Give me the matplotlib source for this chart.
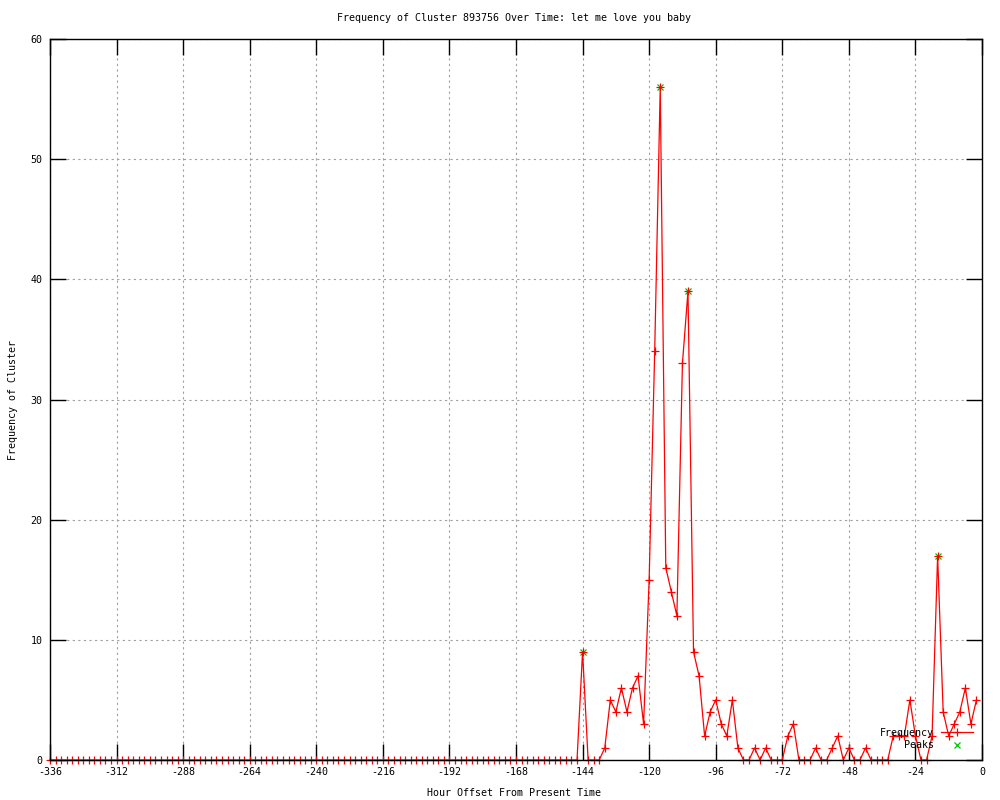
import numpy as np
import matplotlib
matplotlib.use('Agg')
import matplotlib.pyplot as plt

# hour offsets, one sample every 2 hours
hours = list(range(-336, 0, 2))
# everything before -144 is zero
active = [9, 0, 0, 0, 1, 5, 4, 6, 4, 6,
          7, 3, 15, 34, 56, 16, 14, 12, 33, 39,
          9, 7, 2, 4, 5, 3, 2, 5, 1, 0,
          0, 1, 0, 1, 0, 0, 0, 2, 3, 0,
          0, 0, 1, 0, 0, 1, 2, 0, 1, 0,
          0, 1, 0, 0, 0, 0, 2, 2, 2, 5,
          2, 0, 0, 2, 17, 4, 2, 3, 4, 6,
          3, 5]
freq = [0] * (len(hours) - len(active)) + active

peak_hours = [-144, -116, -106, -16]
peak_vals = [9, 56, 39, 17]

xticks = list(range(-336, 1, 24))
yticks = list(range(0, 61, 10))

title = 'Frequency of Cluster 893756 Over Time: let me love you baby'
font = 'DejaVu Sans Mono'
fs = 7.2

fig = plt.figure(figsize=(10, 8), dpi=100)
ax = fig.add_axes([0.05, 0.05, 0.932, 0.90125])

ax.plot(hours, freq, color='red', lw=0.9, marker='+', ms=5.5, mew=0.9,
        clip_on=False, zorder=3, label='Frequency')
ax.plot(peak_hours, peak_vals, color='#00c000', lw=0, marker='x', ms=5,
        mew=0.9, clip_on=False, zorder=2, label='Peaks')

ax.set_xlim(-336, 0)
ax.set_ylim(0, 60)
ax.set_xticks(xticks)
ax.set_yticks(yticks)
ax.set_xticklabels([str(t) for t in xticks], fontfamily=font, fontsize=fs)
ax.set_yticklabels([str(t) for t in yticks], fontfamily=font, fontsize=fs)
ax.tick_params(direction='in', length=11.5, width=1, top=True, right=True,
               colors='black')
ax.tick_params(axis='x', pad=5)
ax.tick_params(axis='y', pad=5.5)
ax.grid(True, color='#a0a0a0', linestyle=(0, (2, 3)), lw=0.8)
ax.set_axisbelow(True)
for s in ax.spines.values():
    s.set_linewidth(1)
    s.set_zorder(4)

fig.text(0.514, 1 - 18 / 800, title, ha='center', va='center',
         fontfamily=font, fontsize=fs)
fig.text(0.514, 1 - 793 / 800, 'Hour Offset From Present Time', ha='center',
         va='center', fontfamily=font, fontsize=fs)
fig.text(13 / 1000, 0.5, 'Frequency of Cluster', rotation=90, ha='center',
         va='center', fontfamily=font, fontsize=fs)

leg = ax.legend(loc='center right', bbox_to_anchor=(973 / 1000, 1 - 739 / 800),
                bbox_transform=fig.transFigure, frameon=False, markerfirst=False,
                prop={'family': font, 'size': fs}, handlelength=3.2,
                handletextpad=0.7, labelspacing=0.3, borderpad=0,
                borderaxespad=0)
for t in leg.get_texts():
    t.set_ha('right')

fig.savefig('out.png', dpi=100)
